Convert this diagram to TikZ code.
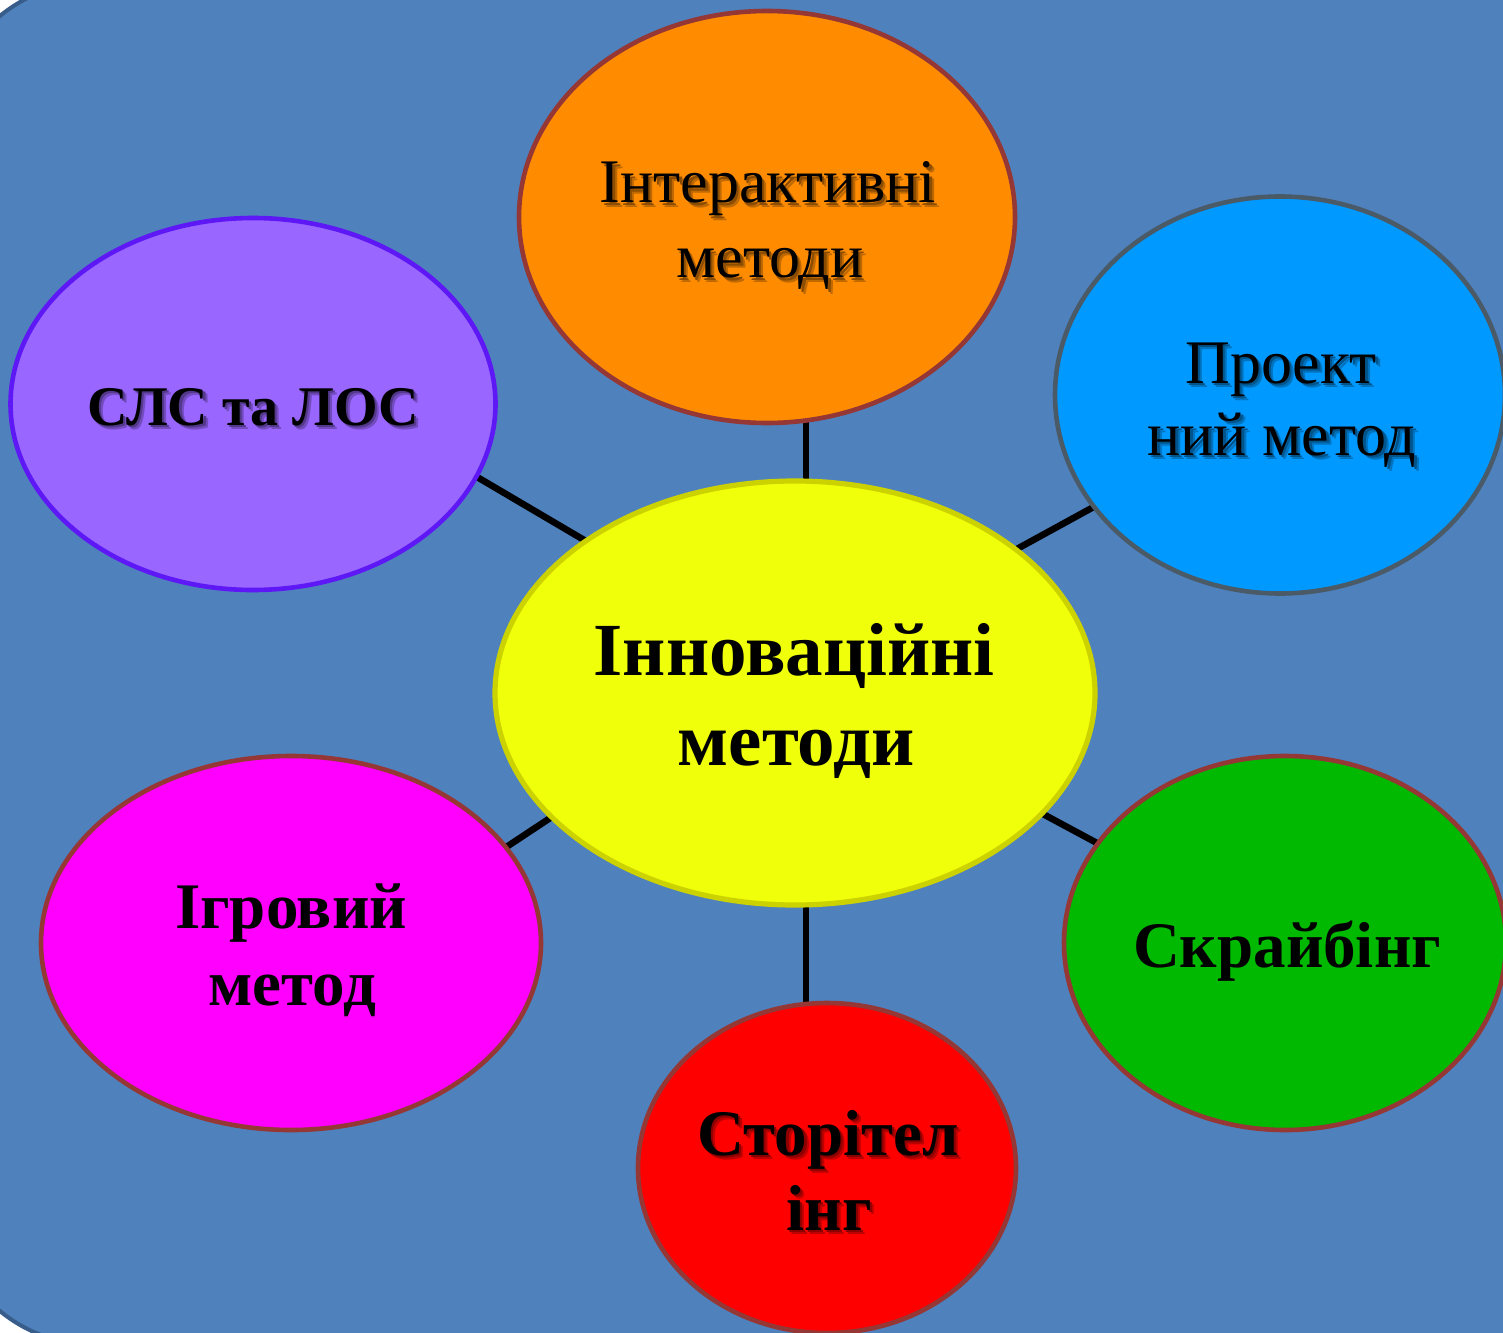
\documentclass[tikz,border=0pt]{standalone}
\usepackage{fontspec}
\setmainfont{Liberation Serif}
\usetikzlibrary{shapes.geometric}
\definecolor{bgblue}{HTML}{4F81BD}
\definecolor{bgedge}{HTML}{385D8A}
\definecolor{brd}{HTML}{953735}
\definecolor{orangef}{HTML}{FF8C00}
\definecolor{purplef}{HTML}{9966FF}
\definecolor{purpleb}{HTML}{5E17F5}
\definecolor{bluef}{HTML}{0099FF}
\definecolor{blueb}{HTML}{4A5A66}
\definecolor{yellowf}{HTML}{F0FF0A}
\definecolor{yellowb}{HTML}{CCD200}
\definecolor{magf}{HTML}{FF00FF}
\definecolor{greenf}{HTML}{00B900}
\definecolor{redf}{HTML}{FF0000}
\pgfdeclarelayer{back}
\pgfdeclarelayer{links}
\pgfsetlayers{back,links,main}
\newcommand\shd[2]{\leavevmode\rlap{\kern2.2pt\raisebox{-2.2pt}{\color{#1!75!black}#2}}\rlap{\kern1.2pt\raisebox{-1.2pt}{\color{#1!55!black}#2}}#2}
\newcommand\regf{\fontsize{31pt}{37pt}\selectfont}
\newcommand\bldf{\bfseries\fontsize{32.5pt}{37pt}\selectfont}
\newcommand\slsf{\bfseries\fontsize{28pt}{34pt}\selectfont}
\newcommand\bigf{\bfseries\fontsize{37.5pt}{44pt}\selectfont}
\begin{document}
\begin{tikzpicture}[x=0.5pt,y=-0.5pt,
  ell/.style={ellipse, draw, line width=2.3pt, inner sep=0pt, outer sep=0pt},
  link/.style={line width=3.3pt, black},
  txt/.style={anchor=base, inner sep=0pt, outer sep=0pt, text=black}]
\useasboundingbox (0,0) rectangle (1503,1332);
\clip (0,0) rectangle (1503,1332);
\begin{pgfonlayer}{back}
  \fill[white] (0,0) rectangle (1503,1332);
  \draw[fill=bgblue, draw=bgedge, line width=2pt, rounded corners=75pt] (-55,-18) rectangle (1620,1345);
\end{pgfonlayer}
% ellipses
\node[ell, fill=yellowf, draw=yellowb, line width=2.6pt, minimum width=300pt, minimum height=212pt] (center) at (795,693) {};
\node[ell, fill=orangef, draw=brd, minimum width=248pt, minimum height=206pt] (inter) at (767,217) {};
\node[ell, fill=purplef, draw=purpleb, minimum width=242.5pt, minimum height=186pt] (sls) at (253,404) {};
\node[ell, fill=bluef, draw=blueb, minimum width=225pt, minimum height=198.5pt] (proj) at (1280,395) {};
\node[ell, fill=magf, draw=brd, minimum width=250pt, minimum height=187pt] (game) at (291,943) {};
\node[ell, fill=greenf, draw=brd, minimum width=221pt, minimum height=187pt] (scribe) at (1285,943) {};
\node[ell, fill=redf, draw=brd, minimum width=189pt, minimum height=165pt] (story) at (827,1168) {};
% connectors
\begin{pgfonlayer}{links}
  \draw[link] (center.87.9) -- (center.87.9 |- inter.center);
  \draw[link] (center.144.7) -- (sls.-18.5);
  \draw[link] (center.33.1) -- (proj.-149.1);
  \draw[link] (center.207.3) -- (game.24.6);
  \draw[link] (center.-26) -- (scribe.152.6);
  \draw[link] (center.-87.9) -- (center.-87.9 |- story.center);
\end{pgfonlayer}
% texts
\node[txt] (t1a) at (768,203) {\regf\shd{orangef}{Інтерактивні}};
\node[txt] (t1b) at (770,278) {\regf\shd{orangef}{методи}};
\node[txt] (t2) at (253,425) {\slsf\shd{purplef}{СЛС та ЛОС}};
\node[txt] (t3a) at (1281,383) {\regf\shd{bluef}{Проект}};
\node[txt] (t3b) at (1282,455) {\regf\shd{bluef}{ний метод}};
\node[txt] (t4a) at (794,675) {\bigf Інноваційні};
\node[txt] (t4b) at (796,765) {\bigf методи};
\node[txt] (t5a) at (291,928) {\bldf Ігровий};
\node[txt] (t5b) at (292,1005) {\bldf метод};
\node[txt] (t6) at (1287,967) {\bldf Скрайбінг};
\node[txt] (t7a) at (828,1155) {\bldf\shd{redf}{Сторітел}};
\node[txt] (t7b) at (829,1230) {\bldf\shd{redf}{інг}};
\end{tikzpicture}
\end{document}
